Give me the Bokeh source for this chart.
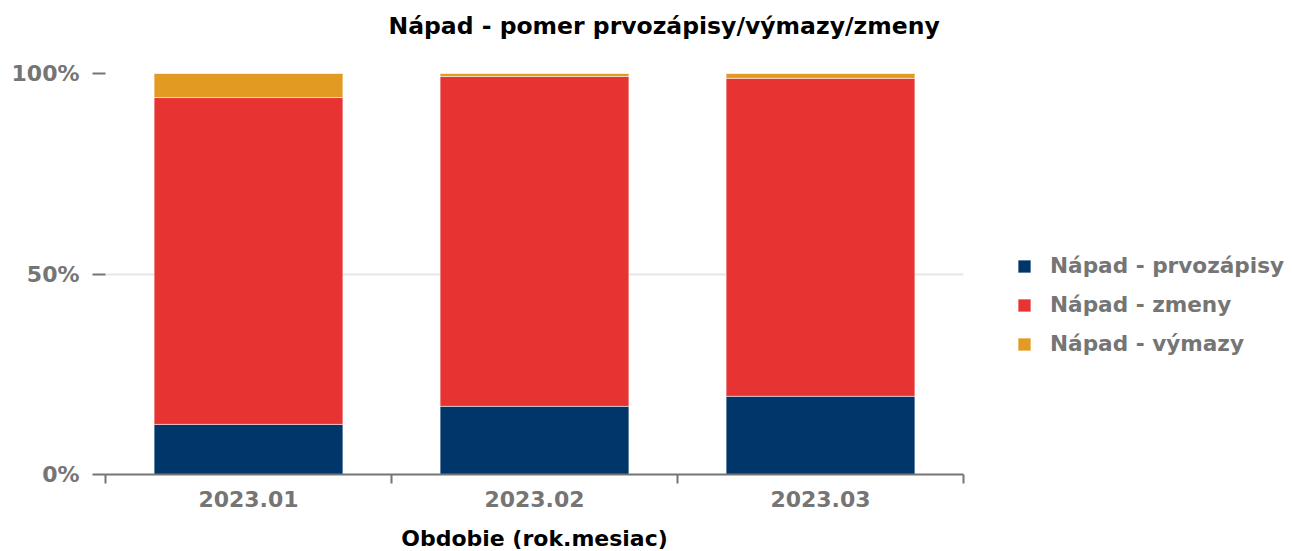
from bokeh.plotting import figure
from bokeh.models import FixedTicker, Legend, LegendItem, ColumnDataSource, Title, Range1d
from bokeh.embed import file_html
from bokeh.resources import INLINE

categories = ["2023.01", "2023.02", "2023.03"]
prvozapisy = [12.5, 17.0, 19.5]
zmeny = [81.5, 82.25, 79.3]
vymazy = [6.0, 0.75, 1.2]
y_ticks = [0, 50, 100]
y_labels = ["0%", "50%", "100%"]

series = ["prvozapisy", "zmeny", "vymazy"]
names = ["Nápad - prvozápisy", "Nápad - zmeny", "Nápad - výmazy"]
colors = ["#01366b", "#e83333", "#e39a22"]

x = [i + 0.5 for i in range(len(categories))]
src = ColumnDataSource(dict(x=x, prvozapisy=prvozapisy, zmeny=zmeny, vymazy=vymazy))

FONT = "DejaVu Sans"
GRAY = "#757575"

p = figure(frame_width=858, frame_height=401, output_backend="svg", toolbar_location=None,
           x_range=Range1d(0, len(categories)), y_range=Range1d(0, 100),
           min_border_left=105, min_border_right=0, min_border_top=73, min_border_bottom=75)

renderers = p.vbar_stack(series, x="x", width=0.66, source=src, color=colors,
                         line_color="white", line_width=0.5)

p.title = Title(text="Nápad - pomer prvozápisy/výmazy/zmeny", align="left",
                text_font=FONT, text_font_size="23.5px", text_font_style="bold",
                text_color="black", offset=283, standoff=0,
                padding=dict(top=0, right=0, bottom=34, left=0))

p.xgrid.visible = False
p.ygrid.ticker = FixedTicker(ticks=[50, 100])
p.ygrid.grid_line_color = "#e6e6e6"
p.ygrid.grid_line_width = 2
p.outline_line_color = None

# x axis
p.xaxis.ticker = FixedTicker(ticks=x, minor_ticks=list(range(len(categories) + 1)))
p.xaxis.major_label_overrides = {xx: c for xx, c in zip(x, categories)}
p.xaxis.major_tick_line_color = None
p.xaxis.minor_tick_in = 0
p.xaxis.minor_tick_out = 9
p.xaxis.minor_tick_line_color = GRAY
p.xaxis.minor_tick_line_width = 2
p.xaxis.axis_line_color = GRAY
p.xaxis.axis_line_width = 2
p.xaxis.major_label_text_font = FONT
p.xaxis.major_label_text_font_size = "22px"
p.xaxis.major_label_text_font_style = "bold"
p.xaxis.major_label_text_color = GRAY
p.xaxis.major_label_standoff = 7
p.xaxis.axis_label = "Obdobie (rok.mesiac)"
p.xaxis.axis_label_text_font = FONT
p.xaxis.axis_label_text_font_size = "22px"
p.xaxis.axis_label_text_font_style = "bold"
p.xaxis.axis_label_text_color = "black"
p.xaxis.axis_label_standoff = 16

# y axis
p.yaxis.ticker = FixedTicker(ticks=y_ticks)
p.yaxis.major_label_overrides = {t: l for t, l in zip(y_ticks, y_labels)}
p.yaxis.axis_line_color = None
p.yaxis.major_tick_in = 0
p.yaxis.major_tick_out = 13
p.yaxis.major_tick_line_color = GRAY
p.yaxis.major_tick_line_width = 2
p.yaxis.minor_tick_line_color = None
p.yaxis.major_label_text_font = FONT
p.yaxis.major_label_text_font_size = "22px"
p.yaxis.major_label_text_font_style = "bold"
p.yaxis.major_label_text_color = GRAY
p.yaxis.major_label_standoff = 13

legend = Legend(items=[LegendItem(label=n, renderers=[r]) for n, r in zip(names, renderers)],
                location=(53, 118), orientation="vertical",
                glyph_width=16, glyph_height=16, label_standoff=18, spacing=14,
                label_height=24, padding=0, margin=0,
                label_text_font=FONT, label_text_font_size="21.6px", label_text_font_style="bold",
                label_text_color=GRAY, border_line_color=None, background_fill_alpha=0)
p.add_layout(legend, "right")

open("out.html", "w").write(file_html(p, INLINE))
